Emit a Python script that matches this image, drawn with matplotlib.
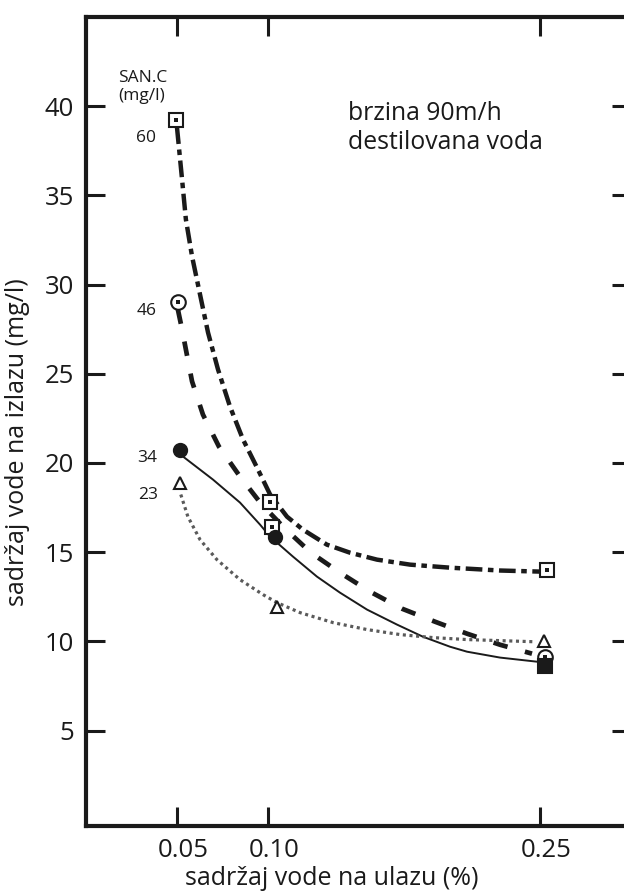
import matplotlib
matplotlib.use("Agg")
import matplotlib.pyplot as plt
from matplotlib.transforms import ScaledTranslation

plt.rcParams["font.family"] = ["Open Sans", "DejaVu Sans"]
plt.rcParams["lines.scale_dashes"] = False

INK = "#1a1a1a"

# Measured points (x = inlet water content %, y = outlet water content mg/l)
sanc_labels = ["60", "46", "34", "23"]
x60 = [0.0497, 0.1010, 0.2540]
y60 = [39.2, 17.8, 14.0]
x46 = [0.0505, 0.1025, 0.2525]
y46 = [29.0, 16.4, 9.1]
x34 = [0.0514, 0.1039, 0.2525]
y34 = [20.7, 15.85, 8.6]
x23 = [0.0514, 0.1050, 0.2522]
y23 = [18.9, 11.9, 10.0]

m60 = ["s", "s", "s"]
m46 = ["o", "s", "o"]
m34 = ["o", "o", "s"]
m23 = ["^", "^", "^"]

# Hand-fitted trend curves, traced along each series
c60_x = [0.0500, 0.0528, 0.0549, 0.0583, 0.0627, 0.0671, 0.0726, 0.0792, 0.0864,
         0.0941, 0.1013, 0.1106, 0.1194, 0.1326, 0.1453, 0.1602, 0.1784, 0.2004,
         0.2280, 0.2500]
c60_y = [38.81, 35.89, 33.65, 31.58, 29.44, 27.31, 25.24, 23.16, 21.31,
         19.74, 18.23, 16.99, 16.26, 15.42, 14.97, 14.58, 14.30, 14.13,
         13.97, 13.91]

c46_x = [0.0505, 0.0528, 0.0549, 0.0583, 0.0643, 0.0731, 0.0847, 0.0963, 0.1095,
         0.1238, 0.1398, 0.1563, 0.1740, 0.1922, 0.2098, 0.2280, 0.2456]
c46_y = [28.60, 27.48, 26.36, 24.57, 22.71, 20.92, 19.24, 17.72, 16.32,
         14.97, 13.85, 12.79, 11.83, 11.10, 10.43, 9.81, 9.31]

c34_x = [0.0511, 0.0533, 0.0698, 0.0847, 0.0957, 0.1013, 0.1139, 0.1271, 0.1398,
         0.1547, 0.1712, 0.1855, 0.2004, 0.2098, 0.2280, 0.2483]
c34_y = [20.70, 20.36, 19.07, 17.78, 16.55, 15.87, 14.75, 13.63, 12.73,
         11.78, 10.94, 10.26, 9.70, 9.42, 9.09, 8.86]

c23_x = [0.0521, 0.0560, 0.0627, 0.0720, 0.0847, 0.0974, 0.1051, 0.1178, 0.1360,
         0.1547, 0.1729, 0.1910, 0.2098, 0.2280, 0.2462]
c23_y = [18.23, 16.99, 15.70, 14.58, 13.46, 12.62, 12.17, 11.61, 11.05,
         10.66, 10.38, 10.21, 10.10, 10.04, 9.98]

xticks = [0.05, 0.10, 0.25]
xtick_labels = ["0.05", "0.10", "0.25"]
yticks = [5, 10, 15, 20, 25, 30, 35, 40]

fig = plt.figure(figsize=(6.24, 8.92), dpi=100)
ax = fig.add_axes([0.1382, 0.074, 0.8726, 0.907])
ax.set_xlim(0, 0.30)
ax.set_ylim(-0.35, 45.0)

# trend curves
ax.plot(c60_x, c60_y, color=INK, lw=3.2, dashes=(12, 4, 4, 4), solid_capstyle="butt",
        dash_capstyle="butt", zorder=2)
ax.plot(c46_x, c46_y, color=INK, lw=3.4, dashes=(10.5, 13), dash_capstyle="butt", zorder=2)
ax.plot(c34_x, c34_y, color=INK, lw=1.4, zorder=2)
ax.plot(c23_x, c23_y, color="#5a5a5a", lw=2.3, dashes=(2.2, 2.6), dash_capstyle="butt", zorder=2)


def draw_points(xs, ys, markers, filled, dotted, size):
    for x, y, m in zip(xs, ys, markers):
        ax.plot([x], [y], marker=m, ms=size, mew=1.5, mec=INK,
                mfc=INK if filled else "white", ls="none", zorder=4)
        if dotted:
            ax.plot([x], [y], marker="s", ms=2.2, mew=0, mfc=INK, ls="none", zorder=5)


draw_points(x60, y60, m60, False, True, 10)
draw_points(x46, y46, m46, False, True, 10.5)
draw_points(x34, y34, m34, True, False, 9.5)
draw_points(x23, y23, m23, False, False, 9)

# series labels
label_pos = [(0.0330, 38.2), (0.0335, 28.5), (0.0335, 20.3), (0.0340, 18.2)]
for txt, (lx, ly) in zip(sanc_labels, label_pos):
    ax.text(lx, ly, txt, fontsize=12.5, color=INK, ha="center", va="center")
ax.text(0.0175, 42.0, "SAN.C\n(mg/l)", fontsize=12.5, color=INK, ha="left", va="top",
        linespacing=1.15)

ax.text(0.1443, 37.58, "brzina 90m/h\ndestilovana voda", fontsize=17.8, color=INK,
        ha="left", va="baseline", linespacing=1.25)

ax.set_xticks(xticks)
ax.set_xticklabels(xtick_labels)
ax.set_yticks(yticks)
ax.tick_params(direction="in", length=14, width=2.2, color=INK, labelsize=18.5,
               labelcolor=INK, top=True, right=True, pad=9)
for lab in ax.get_xticklabels():
    lab.set_transform(lab.get_transform() + ScaledTranslation(0.06, 0, fig.dpi_scale_trans))

for s in ax.spines.values():
    s.set_linewidth(3)
    s.set_color(INK)

ax.set_xlabel("sadržaj vode na ulazu (%)", fontsize=18, color=INK)
ax.set_ylabel("sadržaj vode na izlazu (mg/l)", fontsize=18, color=INK)
ax.xaxis.set_label_coords(0.45, -0.050)
ax.yaxis.set_label_coords(-0.103, 0.475)

fig.savefig("out.png", dpi=100, facecolor="white")
